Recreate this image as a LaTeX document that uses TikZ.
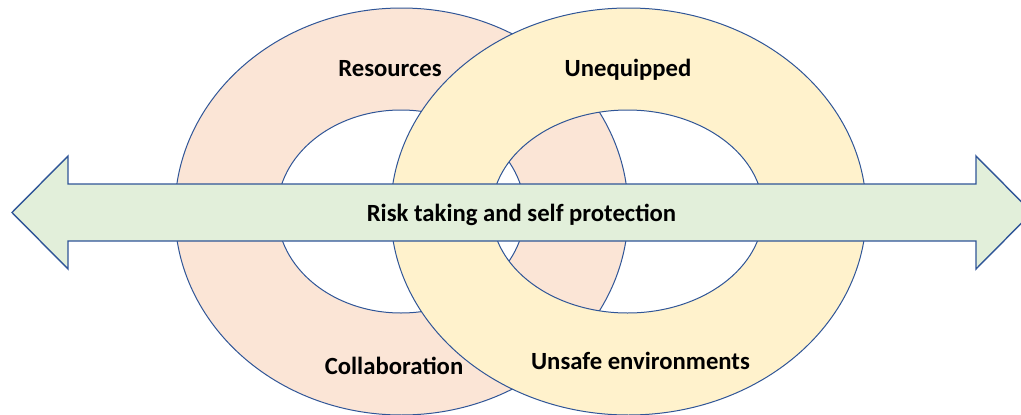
\documentclass[tikz,border=0pt]{standalone}
\usepackage{fontspec}
\setmainfont{Carlito}
\definecolor{ringline}{RGB}{47,85,151}
\definecolor{ringpink}{RGB}{251,229,214}
\definecolor{ringyellow}{RGB}{255,242,204}
\definecolor{arrowgreen}{RGB}{226,239,218}
\begin{document}
\begin{tikzpicture}[x=1pt,y=-1pt,
  ringedge/.style={draw=ringline, line width=1pt},
  lbl/.style={font=\bfseries\fontsize{24.7}{29}\selectfont, anchor=base, inner sep=0pt, text=black}]
\useasboundingbox (0,0) rectangle (1021,415);
\begin{scope}
  \clip (0,0) rectangle (1021,415);
  % left ring
  \fill[ringpink, even odd rule]
    (401.5,211.5) ellipse [x radius=226.7, y radius=203.5]
    (401,211.5) ellipse [x radius=123.8, y radius=101.5];
  \draw[ringedge] (401.5,211.5) ellipse [x radius=226.7, y radius=203.5];
  \draw[ringedge] (401,211.5) ellipse [x radius=123.8, y radius=101.5];
  % right ring, laid over the left one
  \fill[ringyellow, even odd rule]
    (628.5,211.5) ellipse [x radius=237.8, y radius=203.5]
    (627.5,211.5) ellipse [x radius=135.8, y radius=101.5];
  \draw[ringedge] (628.5,211.5) ellipse [x radius=237.8, y radius=203.5];
  \draw[ringedge] (627.5,211.5) ellipse [x radius=135.8, y radius=101.5];
  % double-headed arrow
  \draw[fill=arrowgreen, draw=ringline, line width=1.4pt, line join=miter]
    (12,212.5) -- (68,156) -- (68,184) -- (976,184) -- (976,156) -- (1032,212.5)
    -- (976,269) -- (976,241) -- (68,241) -- (68,269) -- cycle;
\end{scope}
\node[lbl] (res) at (390,76) {Resources};
\node[lbl] (uneq) at (628,76) {Unequipped};
\node[lbl] (coll) at (394,374) {Collaboration};
\node[lbl] (unsafe) at (640.5,369) {Unsafe environments};
\node[lbl] (risk) at (521.5,221) {Risk taking and self protection};
\end{tikzpicture}
\end{document}
